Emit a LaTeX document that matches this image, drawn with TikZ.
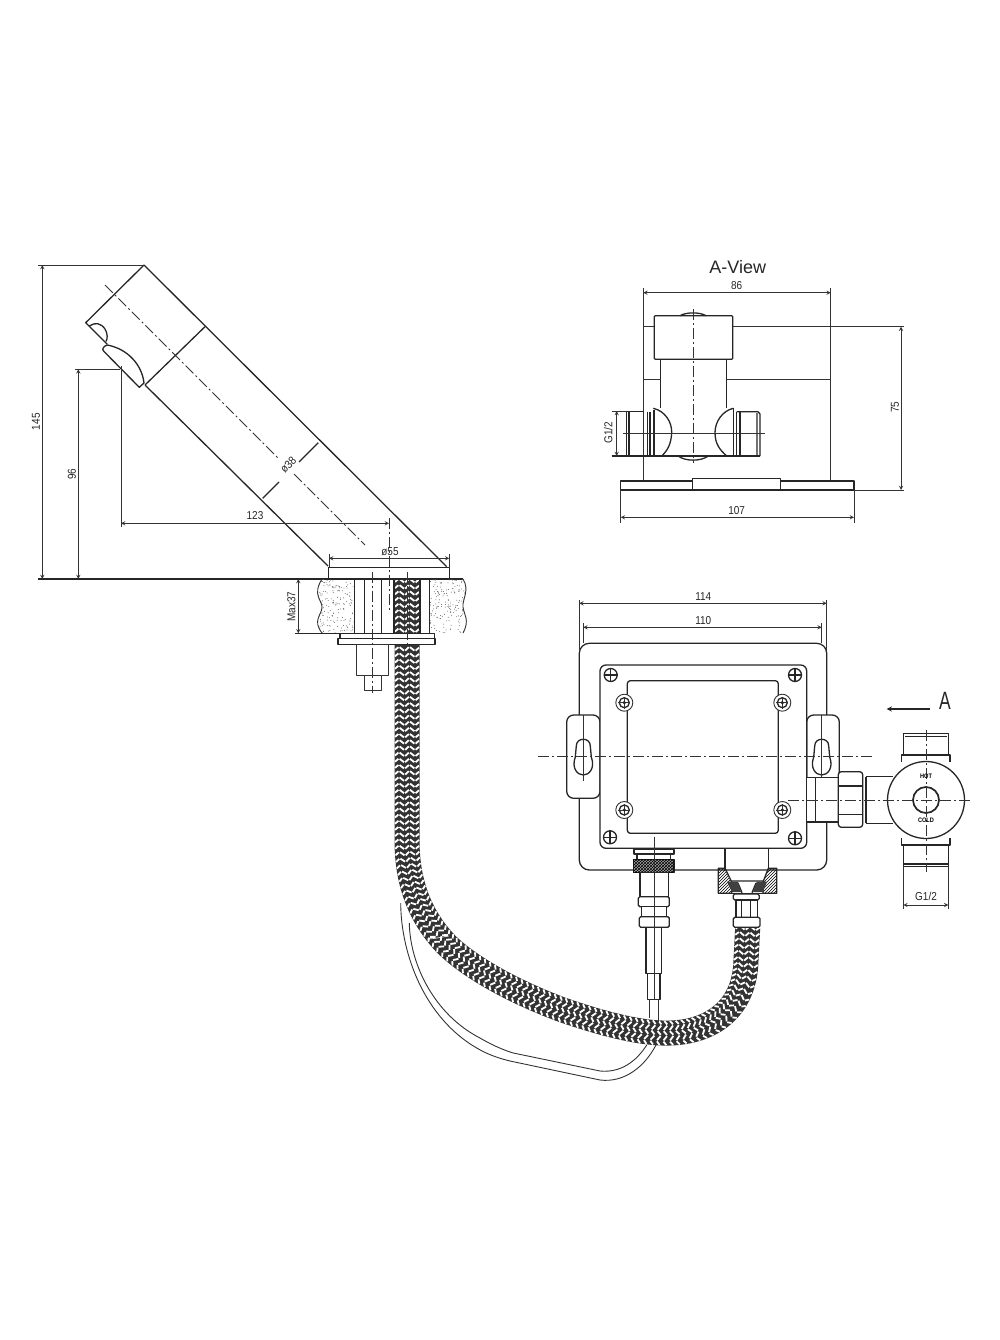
\documentclass[tikz,border=0pt]{standalone}
\usepackage{fontspec}
\usetikzlibrary{decorations.markings,patterns}
\newfontfamily\cadfont[FakeStretch=0.87]{Liberation Sans}
\newfontfamily\titlefont{Liberation Sans}
\newfontfamily\letterfont[FakeStretch=0.7]{Liberation Sans}
\def\hosepath{(407,579) -- (407,840) .. controls (407,880) and (418,915) .. (447,945) .. controls (470,967) and (510,990) .. (560,1009) .. controls (600,1023) and (640,1034) .. (670,1033) .. controls (710,1032) and (745,1010) .. (746,960) -- (747.7,927.3)}
\begin{document}
\begin{tikzpicture}[
        x=1pt,y=-1pt,
        >=stealth,
        line join=round,
        main/.style={line width=1.3pt,black!85},
        slim/.style={line width=.9pt,black!80},
        axisline/.style={line width=.9pt,black!80,dash pattern=on 11pt off 3pt on 2pt off 3pt},
        dim/.style={slim,<->},
        dimtext/.style={font=\cadfont\fontsize{11.5}{11.5}\selectfont,inner sep=0pt,text=black!85},
        braid/.style={decoration={markings,mark=between positions 0 and 1 step 6.2pt with {
                \foreach \ya/\yb/\xa/\xb in {-12/-8.6/.5/3.4,-7.4/-3/3.4/0,-1.8/1.8/0/3.4,3/7.4/3.4/0,8.6/12/0/2.9}
                        \draw[white,line width=1.8pt] (\xa,\ya) -- (\xb,\yb);
                }},postaction={decorate}},
        ]
        \useasboundingbox (0,0) rectangle (1000,1340);
        % wire behind the hose
        \draw[slim] (400.7,903) .. controls (401,955) and (425,1018) .. (476.7,1048) .. controls (490,1056) and (505,1060) .. (513.3,1061.7) -- (600,1080) .. controls (625,1083) and (645,1066) .. (656,1045);
        \draw[slim] (409.3,923) .. controls (410,965) and (435,1015) .. (480,1038) .. controls (490,1044) and (503,1050) .. (513.3,1053) -- (600,1071) .. controls (620,1073) and (636,1062) .. (646.7,1045);
        % hose
        \draw[line width=25pt,black!80,braid] \hosepath;
        \draw[white,line width=.6pt] (427,939) .. controls (434,939) and (442,937) .. (449,936);
        % spout
        \draw[main] (144,265) -- (446.7,566.7);
        \draw[main] (144,265) -- (85.7,322.7) -- (107.3,344.3);
        \draw[main] (145,385) -- (328,566);
        \draw[main] (205,326.7) -- (145,385);
        \draw[main] (89.3,326) .. controls (95,322) and (101,323) .. (105,329) .. controls (108,334) and (107.5,339) .. (106,341.5);
        \draw[main] (107.3,345) .. controls (104,346) and (101,349) .. (104,351.5) -- (139.3,387.3) -- (144,383) .. controls (142,365) and (128,349) .. (107.3,345);
        \draw[axisline] (105,285) -- (279,459) (294,474) -- (365,545);
        \draw[main] (318.3,442.7) -- (299,462) (279,482) -- (262.7,498.3);
        \node[dimtext,rotate=45] (spoutdia) at (288.3,465) {ø38};
        % base and counter
        \draw[main] (328.3,567.3) rectangle (449.3,578.7);
        \draw[main] (38.3,579) -- (463,579);
        \begin{scope}
                \clip (322,579) .. controls (312,595) and (322,600) .. (322,607) .. controls (322,615) and (312,620) .. (322,633) -- (353.3,633) -- (353.3,579) -- cycle;
                \pgfmathsetseed{7}
                \foreach \i in {1,...,170}
                        \fill[black!60] ({317+rnd*37},{579+rnd*54}) circle[radius=.5];
        \end{scope}
        \begin{scope}
                \clip (429.3,579) -- (463,579) .. controls (470,590) and (462,600) .. (463,607) .. controls (464,615) and (470,620) .. (463,633) -- (429.3,633) -- cycle;
                \pgfmathsetseed{11}
                \foreach \i in {1,...,170}
                        \fill[black!60] ({429+rnd*38},{579+rnd*54}) circle[radius=.5];
        \end{scope}
        \draw[slim] (322,579) .. controls (312,595) and (322,600) .. (322,607) .. controls (322,615) and (312,620) .. (322,633);
        \draw[slim] (463,579) .. controls (470,590) and (462,600) .. (463,607) .. controls (464,615) and (470,620) .. (463,633);
        \foreach \bx in {354.3,364.3,381.7,394,420,429.3}
                \draw[main] (\bx,579) -- (\bx,633);
        \draw[main] (295,633.3) -- (340,633.3);
        \draw[main,fill=white] (340,633.3) rectangle (434.3,638.3);
        \draw[main,fill=white] (338,638.3) rectangle (435,644.3);
        \draw[slim,fill=white] (356.7,644.3) rectangle (388.3,675);
        \draw[slim,fill=white] (364.3,675) rectangle (381.7,690);
        \draw[axisline] (372.7,571.7) -- (372.7,693);
        \draw[axisline] (407.3,571.7) -- (407.3,643);
        % dimensions of the spout
        \draw[slim] (38,265) -- (144,265);
        \draw[dim] (42.3,265) -- (42.3,579);
        \node[dimtext,rotate=90] (dimtall) at (36,421.7) {145};
        \draw[slim] (75,369.3) -- (120,369.3);
        \draw[dim] (78.3,369.3) -- (78.3,579);
        \node[dimtext,rotate=90] (dimjet) at (72,474) {96};
        \draw[slim] (121,366) -- (121,526.7);
        \draw[dim] (121,523.3) -- (389,523.3);
        \node[dimtext] (dimreach) at (255,516) {123};
        \draw[axisline] (389,518) -- (389,611.7);
        \draw[slim] (329,554) -- (329,567) (449.3,554) -- (449.3,567);
        \draw[dim] (329,558.3) -- (449.3,558.3);
        \node[dimtext] (dimbase) at (390,552) {ø55};
        \draw[dim] (298.3,579) -- (298.3,633.3);
        \node[dimtext,rotate=90] (dimcounter) at (291.5,606.7) {Max37};
        % A-view
        \node[font=\titlefont\fontsize{18}{18}\selectfont,inner sep=0pt,text=black!85] (viewtitle) at (737.7,266.7) {A-View};
        \draw[slim] (643.3,288.3) -- (643.3,480) (830.7,288.3) -- (830.7,480);
        \draw[dim] (643.3,292.7) -- (830.7,292.7);
        \node[dimtext] (dimview) at (736.7,286) {86};
        \draw[main,fill=white,rounded corners=1pt] (654.3,315.7) rectangle (732.7,359.3);
        \draw[main] (680,315.7) .. controls (686,312) and (700,312) .. (706,315.7);
        \draw[main] (660.7,359.3) -- (660.7,408.3) (726.7,359.3) -- (726.7,408.3);
        \draw[slim] (643.3,326.7) -- (654.3,326.7) (732.7,326.7) -- (904.3,326.7);
        \draw[slim] (643.3,379.3) -- (660.7,379.3) (726.7,379.3) -- (830.7,379.3);
        \draw[main] (653.3,408.3) .. controls (665,411) and (672,422) .. (671.7,432.7) .. controls (671,444) and (668,450) .. (661.7,456);
        \draw[main] (733.3,408.3) .. controls (722,411) and (715,422) .. (715,432.7) .. controls (715,444) and (720,450) .. (726.7,456);
        \draw[main] (611.7,456) -- (760,456);
        \draw[main] (644,411.7) -- (626.7,411.7) -- (626.7,456);
        \draw[main] (629,411.7) -- (629,456) (647.3,411.7) -- (647.3,456) (650,411.7) -- (650,456) (654,410) -- (654,456);
        \draw[main] (733.3,408.3) -- (733.3,456) (736.7,411.7) -- (736.7,456) (740,411.7) -- (740,456);
        \draw[main] (736.7,411.7) -- (758,411.7) -- (760,414) -- (760,456) (757,413) -- (757,456);
        \draw[main] (678.3,456) .. controls (685,461.5) and (701,461.5) .. (708.3,456);
        \draw[axisline] (693.3,309.3) -- (693.3,463.3);
        \draw[slim] (623.3,433.3) -- (765,433.3);
        \draw[slim] (611.7,411) -- (627,411);
        \draw[dim] (616.7,411) -- (616.7,456);
        \node[dimtext,rotate=90] (dimviewport) at (608.3,432.7) {G1/2};
        \draw[main] (620.7,481) rectangle (854,490);
        \draw[main,fill=white] (692.7,478.7) rectangle (780.7,490);
        \draw[slim] (854,490) -- (904.3,490);
        \draw[dim] (901,326.7) -- (901,490);
        \node[dimtext,rotate=90] (dimheight) at (895,407.3) {75};
        \draw[slim] (620.7,490) -- (620.7,522.7) (854,490) -- (854,522.7);
        \draw[dim] (620.7,517.3) -- (854,517.3);
        \node[dimtext] (dimplate) at (736.7,511) {107};
        % control box
        \draw[main,rounded corners=10pt] (579.3,643.3) rectangle (826.7,870);
        \draw[main,fill=white,rounded corners=7pt] (566.7,715) rectangle (600,798.3);
        \draw[main,fill=white,rounded corners=7pt] (806.7,715) rectangle (839.3,798.3);
        \draw[main,fill=white,rounded corners=6pt] (600,665) rectangle (806.7,848.3);
        \draw[main,rounded corners=3pt] (627.3,680.7) rectangle (778.3,833.3);
        \foreach \sx/\sy in {610.7/675,795/675,610/837.3,795/838.3} {
                \draw[main] (\sx,\sy) circle[radius=6.5];
                \draw[main] (\sx-7,\sy) -- (\sx+7,\sy) (\sx,\sy-7) -- (\sx,\sy+7);
        }
        \foreach \sx/\sy in {624.3/702.7,782.3/702.7,624.3/810,782.3/810} {
                \draw[slim,fill=white] (\sx,\sy) circle[radius=8.5];
                \draw[main] (\sx,\sy) circle[radius=5];
                \draw[slim] (\sx-6,\sy) -- (\sx+6,\sy) (\sx,\sy-6) -- (\sx,\sy+6);
                \fill[black!85] (\sx,\sy) circle[radius=1.8];
        }
        \foreach \sx in {583.3,821.7} {
                \draw[main] (\sx-7,746) .. controls (\sx-7,737) and (\sx+7,737) .. (\sx+7,746) -- (\sx+8,757) .. controls (\sx+12,768) and (\sx+6,775) .. (\sx,775) .. controls (\sx-6,775) and (\sx-12,768) .. (\sx-8,757) -- cycle;
                \draw[slim] (\sx,623) -- (\sx,643.3) (\sx,715) -- (\sx,781);
        }
        \draw[slim] (579.3,600) -- (579.3,650) (826.7,600) -- (826.7,650);
        \draw[dim] (579.3,603.3) -- (826.7,603.3);
        \node[dimtext] (dimouter) at (703.3,597) {114};
        \draw[dim] (583.3,627.3) -- (821.7,627.3);
        \node[dimtext] (diminner) at (703.3,621) {110};
        \draw[axisline] (538.3,756.7) -- (875,756.7);
        % valve at the side
        \fill[white] (807.4,777.5) rectangle (838.3,822);
        \draw[main] (806.7,777.5) -- (838.3,777.5) (806.7,822) -- (838.3,822) (815.7,777.5) -- (815.7,822);
        \draw[main,fill=white,rounded corners=3pt] (838.3,771.7) rectangle (862.7,827.3);
        \draw[main] (838.3,786) -- (862.7,786) (838.3,814.3) -- (862.7,814.3);
        \draw[main] (866,776.5) -- (893,776.5) (866,823.3) -- (893,823.3) (866,776.5) -- (866,823.3);
        \draw[main] (903.3,755) -- (903.3,733.3) -- (948.3,733.3) -- (948.3,755) (905,736.7) -- (947,736.7);
        \draw[main] (901.7,762) -- (901.7,755) -- (950,755) -- (950,762);
        \draw[main] (901.7,838) -- (901.7,845) -- (950,845) -- (950,838);
        \draw[main] (903.3,845) -- (903.3,866.7) -- (948.3,866.7) -- (948.3,845) (903.3,864) -- (948.3,864);
        \draw[main,fill=white] (926,800) circle[radius=38.5];
        \draw[line width=1.7pt,black!85] (926,800) circle[radius=13];
        \draw[axisline] (788.3,800) -- (970,800);
        \draw[axisline] (926,730) -- (926,871.7);
        \node[font=\cadfont\bfseries\fontsize{6.5}{6.5}\selectfont,inner sep=0pt] (hotmark) at (926,776.7) {HOT};
        \node[font=\cadfont\bfseries\fontsize{6.5}{6.5}\selectfont,inner sep=0pt] (coldmark) at (926,820.7) {COLD};
        \draw[slim] (903.3,866.7) -- (903.3,909.3) (948.3,866.7) -- (948.3,909.3);
        \draw[dim] (903.3,905) -- (948.3,905);
        \node[dimtext] (dimport) at (926,896) {G1/2};
        \coordinate (viewfrom) at (930,709);
        \coordinate (viewto) at (886.7,709);
        \draw[main,->] (viewfrom) -- (viewto);
        \node[font=\letterfont\fontsize{25}{25}\selectfont,inner sep=0pt,text=black!85] (viewletter) at (945,701) {A};
        % sensor plug
        \draw[main,fill=white] (634,849.3) rectangle (674,854);
        \draw[main,fill=white] (637,854) rectangle (670.7,859.3);
        \draw[main,fill=black!35] (633.3,859.3) rectangle (674,872.7);
        \fill[pattern=crosshatch,pattern color=black] (633.3,859.3) rectangle (674,872.7);
        \draw[main,fill=white] (640,872.7) rectangle (668.3,896.7);
        \draw[main,fill=white,rounded corners=1.5pt] (638.3,896.7) rectangle (669.3,906.7);
        \draw[main,fill=white] (641.7,906.7) rectangle (666.7,916.7);
        \draw[main,fill=white,rounded corners=1.5pt] (639.3,916.7) rectangle (669.3,927.3);
        \draw[main] (646,927.3) rectangle (661.7,973.3);
        \draw[main] (647.3,973.3) rectangle (660,999.3);
        \draw[slim] (649.3,999.3) -- (649.3,1018) (658.3,999.3) -- (658.3,1022);
        \draw[slim] (654,836.7) -- (654,1000);
        % hose nut
        \draw[main] (725,849.3) -- (725,870) (768.3,849.3) -- (768.3,870);
        \draw[main,pattern=north east lines] (718.3,868.3) -- (725,868.3) -- (731.7,882) -- (731.7,893.3) -- (718.3,893.3) -- cycle;
        \draw[main,pattern=north east lines] (776.7,868.3) -- (768.3,868.3) -- (763,882) -- (763,893.3) -- (776.7,893.3) -- cycle;
        \draw[main] (731.7,893.3) -- (763,893.3);
        \draw[main] (731.7,881) -- (763,881) (738,883) -- (742,892.7) (756,883) -- (752,892.7);
        \fill[black!75] (727,881.7) -- (738,881.7) -- (741,892) -- (732,892) -- cycle (767,881.7) -- (756.7,881.7) -- (753,892) -- (763,892) -- cycle;
        \draw[main,fill=white,rounded corners=1.5pt] (733.3,894) rectangle (759.3,900);
        \draw[main,fill=white] (736,900) rectangle (757.3,917.3);
        \draw[main] (741.7,900) -- (741.7,917.3) (750.7,900) -- (750.7,917.3);
        \draw[main,fill=white,rounded corners=1.5pt] (733.3,917.3) rectangle (760,927.3);
\end{tikzpicture}
\end{document}
